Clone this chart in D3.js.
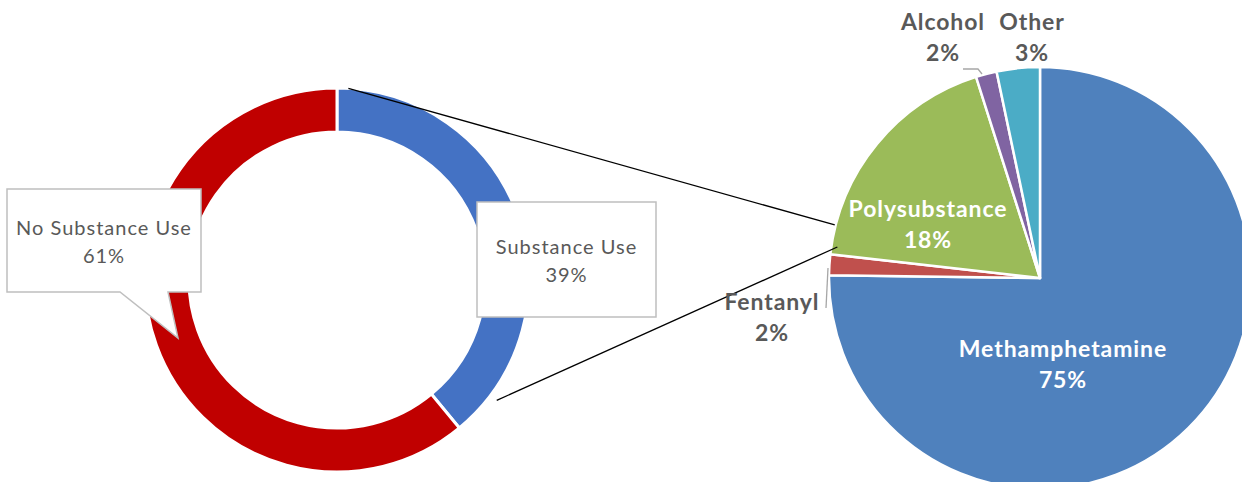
<!DOCTYPE html>
<html>
<head>
<meta charset="utf-8">
<script src="https://cdn.jsdelivr.net/npm/d3@7"></script>
<style>
  html, body { margin: 0; padding: 0; background: #fff; }
  svg { display: block; }
</style>
</head>
<body>
<div id="chart"></div>
<script>
// donut (left): share of cases with any substance use
const useCategories = ["Substance Use", "No Substance Use"];
const useValues = [39, 61];
const useLabels = ["39%", "61%"];
const useColors = ["#4472C4", "#C00000"];

// pie (right): breakdown of the substance use slice
const subCategories = ["Methamphetamine", "Fentanyl", "Polysubstance", "Alcohol", "Other"];
const subValues = [75.2, 1.6, 18.3, 1.6, 3.3];
const subLabels = ["75%", "2%", "18%", "2%", "3%"];
const subColors = ["#4F81BD", "#C0504D", "#9BBB59", "#8064A2", "#4BACC6"];

const width = 1242,
      height = 482;

const svg = d3.select("#chart")
    .append("svg")
    .attr("width", width)
    .attr("height", height);

const font = "Lato, 'Open Sans', sans-serif";
const deg = Math.PI / 180;

// point on a circle, angle measured clockwise from 12 o'clock
const polar = (cx, cy, r, a) => [cx + r * Math.sin(a), cy - r * Math.cos(a)];

/////// DONUT ///////
const donut = { cx: 337, cy: 280, inner: 148, outer: 192 };

const donutPie = d3.pie().sort(null).value(d => d);
const donutArc = d3.arc().innerRadius(donut.inner).outerRadius(donut.outer);

const gDonut = svg.append("g")
    .attr("transform", `translate(${donut.cx},${donut.cy})`);

gDonut.selectAll("path")
    .data(donutPie(useValues))
    .enter()
    .append("path")
    .attr("d", donutArc)
    .attr("fill", (d, i) => useColors[i])
    .attr("stroke", "#fff")
    .attr("stroke-width", 3);

/////// PIE ///////
const pieC = { cx: 1040, cy: 278, r: 211 };

const subPie = d3.pie().sort(null).value(d => d);
const subArc = d3.arc().innerRadius(0).outerRadius(pieC.r);
const subArcs = subPie(subValues);

const gPie = svg.append("g")
    .attr("transform", `translate(${pieC.cx},${pieC.cy})`);

gPie.selectAll("path")
    .data(subArcs)
    .enter()
    .append("path")
    .attr("d", subArc)
    .attr("fill", (d, i) => subColors[i])
    .attr("stroke", "#fff")
    .attr("stroke-width", 2.5)
    .attr("stroke-linejoin", "round");

/////// CONNECTOR LINES ///////
// donut edge -> left edge of pie (angles)
const connectors = [
    { from: [donut.outer, 3.4], to: [212, 284.5] },
    { from: [200, 127], to: [205, 278.7] }
];
svg.append("g").selectAll("line")
    .data(connectors)
    .enter()
    .append("line")
    .attr("x1", d => polar(donut.cx, donut.cy, d.from[0], d.from[1] * deg)[0])
    .attr("y1", d => polar(donut.cx, donut.cy, d.from[0], d.from[1] * deg)[1])
    .attr("x2", d => polar(pieC.cx, pieC.cy, d.to[0], d.to[1] * deg)[0])
    .attr("y2", d => polar(pieC.cx, pieC.cy, d.to[0], d.to[1] * deg)[1])
    .attr("stroke", "#000")
    .attr("stroke-width", 1.3);

/////// DONUT CALLOUTS ///////
// boxes are positioned relative to the donut centre
const callouts = [
    { i: 0, x: 140, y: -78, w: 179, h: 115, tip: null },
    { i: 1, x: -330, y: -91, w: 194, h: 103, tip: { a: 113, b: 161, tx: -159, ty: 58 } }
];

const gCall = gDonut.append("g");
callouts.forEach(c => {
    let x0 = c.x, y0 = c.y, x1 = c.x + c.w, y1 = c.y + c.h;
    let pts;
    if (c.tip) {
        pts = [[x0, y0], [x1, y0], [x1, y1], [x0 + c.tip.b, y1],
               [c.tip.tx, c.tip.ty], [x0 + c.tip.a, y1], [x0, y1]];
    } else {
        pts = [[x0, y0], [x1, y0], [x1, y1], [x0, y1]];
    }
    gCall.append("path")
        .attr("d", d3.line()(pts) + "Z")
        .attr("fill", "#fff")
        .attr("stroke", "#BFBFBF")
        .attr("stroke-width", 1.5);

    let text = gCall.append("text")
        .attr("text-anchor", "middle")
        .attr("fill", "#595959")
        .style("font", `400 20px ${font}`)
        .style("letter-spacing", "1px");
    let mid = (x0 + x1) / 2;
    let cy = (y0 + y1) / 2;
    text.append("tspan").attr("x", mid).attr("y", cy - 6).text(useCategories[c.i]);
    text.append("tspan").attr("x", mid).attr("y", cy + 22).text(useLabels[c.i]);
});

/////// PIE LABELS ///////
// label baselines, relative to the pie centre, and whether they sit inside
const pieLabelPos = [
    { dx: 23, dy: 357, inside: true },
    { dx: -268, dy: 310, inside: false },
    { dx: -112, dy: 217, inside: true },
    { dx: -97, dy: 30, inside: false },
    { dx: -8, dy: 30, inside: false }
];

const gLab = svg.append("g");
subArcs.forEach((d, i) => {
    let p = pieLabelPos[i];
    let x = pieC.cx + p.dx;
    let text = gLab.append("text")
        .attr("text-anchor", "middle")
        .attr("fill", p.inside ? "#fff" : "#595959")
        .style("font", `700 23px ${font}`)
        .style("letter-spacing", "0.9px");
    text.append("tspan").attr("x", x).attr("y", p.dy).text(subCategories[i]);
    text.append("tspan").attr("x", x).attr("y", p.dy + 31).text(subLabels[i]);
});

// small leader lines for the outside labels
const leaders = [
    [[963, 69], [978, 69], [982, 74]],
    [[826, 308], [828, 268]]
];
gLab.selectAll("path.leader")
    .data(leaders)
    .enter()
    .append("path")
    .attr("class", "leader")
    .attr("d", d => d3.line()(d))
    .attr("fill", "none")
    .attr("stroke", "#A6A6A6")
    .attr("stroke-width", 1.3);
</script>
</body>
</html>
